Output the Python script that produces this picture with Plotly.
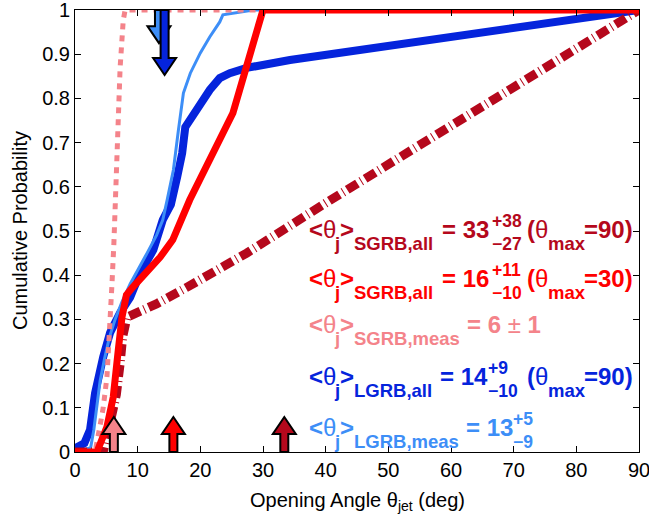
import plotly.graph_objects as go

# ---------------- data ----------------
lgrb_all_x = [0, 0.3, 1.5, 2.4, 3.2, 4.5, 5.6, 7.2, 8.8, 10.4, 12.5, 14.0, 15.3, 16.3, 17.1, 17.6, 18.7, 20.0, 21.5, 23.1, 24.7, 27.4, 34.3, 90]
lgrb_all_y = [0.008, 0.01, 0.02, 0.05, 0.133, 0.215, 0.27, 0.315, 0.35, 0.405, 0.457, 0.525, 0.56, 0.622, 0.676, 0.735, 0.758, 0.79, 0.819, 0.846, 0.857, 0.869, 0.887, 1.0]

lgrb_meas_x = [0, 2.5, 3.0, 3.4, 4.0, 4.7, 5.5, 6.4, 7.5, 8.8, 10.0, 11.5, 13.0, 14.0, 14.7, 15.7, 16.5, 17.3, 18.4, 20.0, 21.5, 23.1, 23.6, 27.9, 28.5, 90]
lgrb_meas_y = [0, 0.01, 0.05, 0.1, 0.16, 0.21, 0.26, 0.3, 0.34, 0.38, 0.41, 0.45, 0.49, 0.525, 0.57, 0.638, 0.728, 0.812, 0.857, 0.903, 0.939, 0.973, 0.989, 0.998, 1.0, 1.0]

sgrb_all90_x = [0, 4.5, 5.5, 6.6, 7.2, 7.6, 8.3, 13.0, 17.9, 27.4, 40.2, 67.3, 90]
sgrb_all90_y = [0, 0, 0.06, 0.13, 0.2, 0.26, 0.305, 0.335, 0.373, 0.45, 0.565, 0.8, 1.0]

sgrb_meas_x = [0, 3.2, 4.0, 4.5, 5.1, 5.6, 5.9, 6.2, 6.4, 6.9, 7.2, 7.7, 8.0, 90]
sgrb_meas_y = [0, 0, 0.06, 0.1, 0.17, 0.28, 0.38, 0.47, 0.57, 0.76, 0.87, 0.977, 1.0, 1.0]

sgrb_all30_x = [0, 3.5, 5.1, 6.1, 6.9, 7.5, 8.2, 9.1, 13.6, 15.6, 18.3, 25.2, 30.0, 90]
sgrb_all30_y = [0, 0, 0.057, 0.124, 0.23, 0.305, 0.355, 0.371, 0.441, 0.48, 0.57, 0.767, 1.0, 1.0]

# median markers (arrows)
bottom_arrow_x = [6.2, 15.7, 33.4]          # SGRB meas, SGRB all (30), SGRB all (90)
top_arrow_x = [13.4, 14.3]                   # LGRB meas, LGRB all
top_arrow_tip = [0.925, 0.853]

x_ticks = [0, 10, 20, 30, 40, 50, 60, 70, 80, 90]
y_ticks = [0, 0.1, 0.2, 0.3, 0.4, 0.5, 0.6, 0.7, 0.8, 0.9, 1.0]
y_ticklabels = ["0", "0.1", "0.2", "0.3", "0.4", "0.5", "0.6", "0.7", "0.8", "0.9", "1"]

# ---------------- styling ----------------
C_DARKRED = "#b5081c"
C_RED = "#ff0000"
C_PINK = "#f4838a"
C_BLUE = "#0524dc"
C_LBLUE = "#3d8ef7"
FONT = "Liberation Sans, Arial, Helvetica, sans-serif"

W, H = 649, 521
L, R, T, B = 75, 10, 10, 69
PW, PH = W - L - R, H - T - B

fig = go.Figure()

def add_line(x, y, color, width, dash="solid"):
    fig.add_trace(go.Scatter(x=x, y=y, mode="lines",
                             line=dict(color=color, width=width, dash=dash),
                             showlegend=False, hoverinfo="skip"))

add_line(lgrb_all_x, lgrb_all_y, C_BLUE, 8)
add_line(lgrb_meas_x, lgrb_meas_y, C_LBLUE, 3)
add_line(sgrb_all90_x, sgrb_all90_y, C_DARKRED, 9, "12px,4px,1px,4px")
add_line(sgrb_meas_x, sgrb_meas_y, C_PINK, 5, "6px,6px")
add_line(sgrb_all30_x, sgrb_all30_y, C_RED, 7)

# ---------------- arrows ----------------
deg_per_px = 90.0 / PW
y_per_px = 1.0 / PH
shaft_hw = 4 * deg_per_px
head_hw = 11.5 * deg_per_px
head_len = 17 * y_per_px

def arrow_path(xc, y_base, y_tip):
    s = 1 if y_tip > y_base else -1
    yh = y_tip - s * head_len
    pts = [(xc - shaft_hw, y_base), (xc - shaft_hw, yh), (xc - head_hw, yh),
           (xc, y_tip), (xc + head_hw, yh), (xc + shaft_hw, yh), (xc + shaft_hw, y_base)]
    return "M " + " L ".join(f"{px:.4f},{py:.4f}" for px, py in pts) + " Z"

bottom_colors = [C_PINK, C_RED, C_DARKRED]
for xc, col in zip(bottom_arrow_x, bottom_colors):
    fig.add_shape(type="path", path=arrow_path(xc, 0.0, 35 * y_per_px),
                  xref="x", yref="y", fillcolor=col,
                  line=dict(color="black", width=2), layer="above")
for xc, tip, col in zip(top_arrow_x, top_arrow_tip, [C_LBLUE, C_BLUE]):
    fig.add_shape(type="path", path=arrow_path(xc, 1.0, tip),
                  xref="x", yref="y", fillcolor=col,
                  line=dict(color="black", width=2), layer="above")

# ---------------- text annotations ----------------
def px2x(px):
    return (px - L) / PW

def py2y(py):
    return (T + PH - py) / PH

def piece(text, xpx, baseline, size, color):
    fig.add_annotation(text=text, x=px2x(xpx), y=py2y(baseline - 0.3465 * size),
                       xref="paper", yref="paper", xanchor="left", yanchor="middle",
                       showarrow=False, borderpad=0,
                       font=dict(family=FONT, size=size, color=color))

MS, SS, NS = 24, 18.5, 17.5   # main, subscript-label and sup/sub-number font sizes
SUB, SUP = 12, -11

def prefix(label, base, color):
    piece("<b>&lt;</b>θ", 308, base, MS, color)
    piece("<b>j</b>", 333, base + SUB, SS, color)
    piece("<b>&gt;</b>", 339, base, MS, color)
    piece(f"<b>{label}</b>", 353, base + SUB, SS, color)

def thetamax(val, base, color, x0=526):
    piece("<b>(</b>θ", x0, base, MS, color)
    piece("<b>max</b>", 547, base + SUB, SS, color)
    piece(f"<b>={val})</b>", 583, base, MS, color)

# line 1
b = 238
prefix("SGRB,all", b, C_DARKRED)
piece("<b>= 33</b>", 441, b, MS, C_DARKRED)
piece("<b>+38</b>", 491, b + SUP, NS, C_DARKRED)
piece("<b>−27</b>", 491, b + SUB, NS, C_DARKRED)
thetamax("90", b, C_DARKRED)
# line 2
b = 287
prefix("SGRB,all", b, C_RED)
piece("<b>= 16</b>", 441, b, MS, C_RED)
piece("<b>+11</b>", 491, b + SUP, NS, C_RED)
piece("<b>−10</b>", 491, b + SUB, NS, C_RED)
thetamax("30", b, C_RED)
# line 3
b = 333
prefix("SGRB,meas", b, C_PINK)
piece("<b>= 6 </b>±<b> 1</b>", 466, b, MS, C_PINK)
# line 4
b = 385
prefix("LGRB,all", b, C_BLUE)
piece("<b>= 14</b>", 439, b, MS, C_BLUE)
piece("<b>+9</b>", 487, b + SUP, NS, C_BLUE)
piece("<b>−10</b>", 487, b + SUB, NS, C_BLUE)
thetamax("90", b, C_BLUE)
# line 5
b = 436
prefix("LGRB,meas", b, C_LBLUE)
piece("<b>= 13</b>", 465, b, MS, C_LBLUE)
piece("<b>+5</b>", 512, b + SUP, NS, C_LBLUE)
piece("<b>−9</b>", 512, b + SUB, NS, C_LBLUE)

# axis titles
fig.add_annotation(text="Opening Angle θ<sub>jet</sub> (deg)", x=0.5, y=py2y(501),
                   xref="paper", yref="paper", xanchor="center", yanchor="middle",
                   showarrow=False, font=dict(family=FONT, size=20, color="black"))
fig.add_annotation(text="Cumulative Probability", x=px2x(20), y=0.5, textangle=-90,
                   xref="paper", yref="paper", xanchor="center", yanchor="middle",
                   showarrow=False, font=dict(family=FONT, size=20, color="black"))

axis_common = dict(showline=True, linecolor="black", linewidth=1, mirror="ticks",
                   ticks="inside", ticklen=6, tickcolor="black", tickwidth=1,
                   showgrid=False, zeroline=False, automargin=False,
                   ticklabeloverflow="allow",
                   tickfont=dict(family=FONT, size=20, color="black"))

fig.update_layout(
    width=W, height=H,
    margin=dict(l=L, r=R, t=T, b=B, autoexpand=False),
    paper_bgcolor="white", plot_bgcolor="white",
    xaxis=dict(range=[0, 90], tickvals=x_ticks, ticktext=[str(v) for v in x_ticks], **axis_common),
    yaxis=dict(range=[0, 1], tickvals=y_ticks, ticktext=y_ticklabels, **axis_common),
    showlegend=False,
)

fig.write_html("out.html", config={"displayModeBar": False},
               post_script="document.body.style.margin='0';document.body.style.padding='0';"
                           "document.body.style.overflow='hidden';")
